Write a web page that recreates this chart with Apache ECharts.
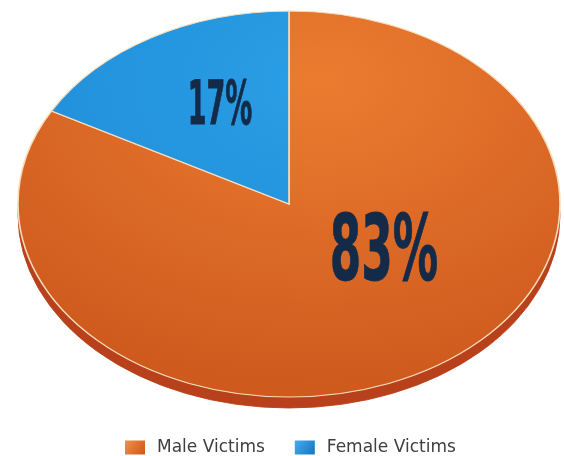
<!DOCTYPE html>
<html>
<head>
<meta charset="utf-8">
<script src="https://cdn.jsdelivr.net/npm/echarts@6/dist/echarts.min.js"></script>
<style>
html,body{margin:0;padding:0;background:#fff;}
#chart{width:564px;height:456px;}
</style>
</head>
<body>
<div id="chart"></div>
<script>
// ---- data ----
const categories = ['Male Victims', 'Female Victims'];
const values = [83, 17];

// ---- layout / style (not data) ----
const layout = {
  cx: 289, cy: 204, rx: 271, ry: 193, depth: 11,
  labelPos: [[384, 257], [220, 108]],
  labelSize: [90, 60],
  labelScaleX: [0.56, 0.50]
};
const topColors = [
  ['#EC7C30', '#CE5A1E'],
  ['#2A9EE6', '#1C8AD4']
];
const sideColors = ['#B8401A', '#1466A8'];
const legendColors = [
  ['#F39048', '#CF561A'],
  ['#45AEEE', '#1474C0']
];

const total = values.reduce((a, b) => a + b, 0);

function makeRender(idx) {
  return function (params, api) {
    const before = values.slice(0, idx).reduce((a, b) => a + b, 0);
    const v = api.value(0);
    const start = -Math.PI / 2 + before / total * Math.PI * 2;
    const end = start + v / total * Math.PI * 2;
    const sy = layout.ry / layout.rx;
    const hy = layout.cy + (80 - layout.cy) / sy; // highlight centre (local coords)
    const topFill = {
      type: 'radial', x: layout.cx + 30, y: hy, r: layout.rx * 1.6, global: true,
      colorStops: [{offset: 0, color: topColors[idx][0]}, {offset: 1, color: topColors[idx][1]}]
    };
    const pct = Math.round(v / total * 100) + '%';
    return {
      type: 'group',
      children: [
        {
          type: 'sector',
          z2: 0,
          shape: {cx: layout.cx, cy: layout.cy + layout.depth / sy, r: layout.rx, r0: 0,
                  startAngle: start, endAngle: end, clockwise: true},
          originX: layout.cx, originY: layout.cy,
          scaleY: sy,
          style: {fill: sideColors[idx], stroke: sideColors[idx], lineWidth: 1, strokeNoScale: true}
        },
        {
          type: 'sector',
          z2: 10,
          shape: {cx: layout.cx, cy: layout.cy, r: layout.rx, r0: 0,
                  startAngle: start, endAngle: end, clockwise: true},
          originX: layout.cx, originY: layout.cy,
          scaleY: sy,
          style: {fill: topFill, stroke: '#F7DDBA', lineWidth: 1.6, strokeNoScale: true}
        },
        {
          type: 'text',
          z2: 20,
          x: layout.labelPos[idx][0],
          y: layout.labelPos[idx][1],
          scaleX: layout.labelScaleX[idx],
          style: {
            text: pct,
            fontFamily: '"Liberation Sans Narrow", "DejaVu Sans Condensed", sans-serif',
            fontWeight: 'bold',
            fontSize: layout.labelSize[idx],
            fill: '#132A48',
            stroke: '#132A48',
            lineWidth: 0.9,
            strokeNoScale: true,
            align: 'center',
            verticalAlign: 'middle'
          }
        }
      ]
    };
  };
}

const chart = echarts.init(document.getElementById('chart'), null, {renderer: 'canvas'});
chart.setOption({
  animation: false,
  backgroundColor: '#ffffff',
  legend: {
    data: categories,
    left: 120,
    top: 434,
    itemWidth: 20,
    itemHeight: 14,
    itemGap: 30,
    icon: 'rect',
    selectedMode: false,
    textStyle: {fontFamily: '"DejaVu Sans", sans-serif', fontSize: 17, color: '#3e3e3e', padding: [0, 0, 0, 7]}
  },
  series: categories.map((name, i) => ({
    type: 'custom',
    name: name,
    coordinateSystem: 'none',
    itemStyle: {
      color: {type: 'linear', x: 0, y: 0, x2: 1, y2: 1,
              colorStops: [{offset: 0, color: legendColors[i][0]}, {offset: 1, color: legendColors[i][1]}]}
    },
    renderItem: makeRender(i),
    data: [[values[i]]]
  }))
});
</script>
</body>
</html>
